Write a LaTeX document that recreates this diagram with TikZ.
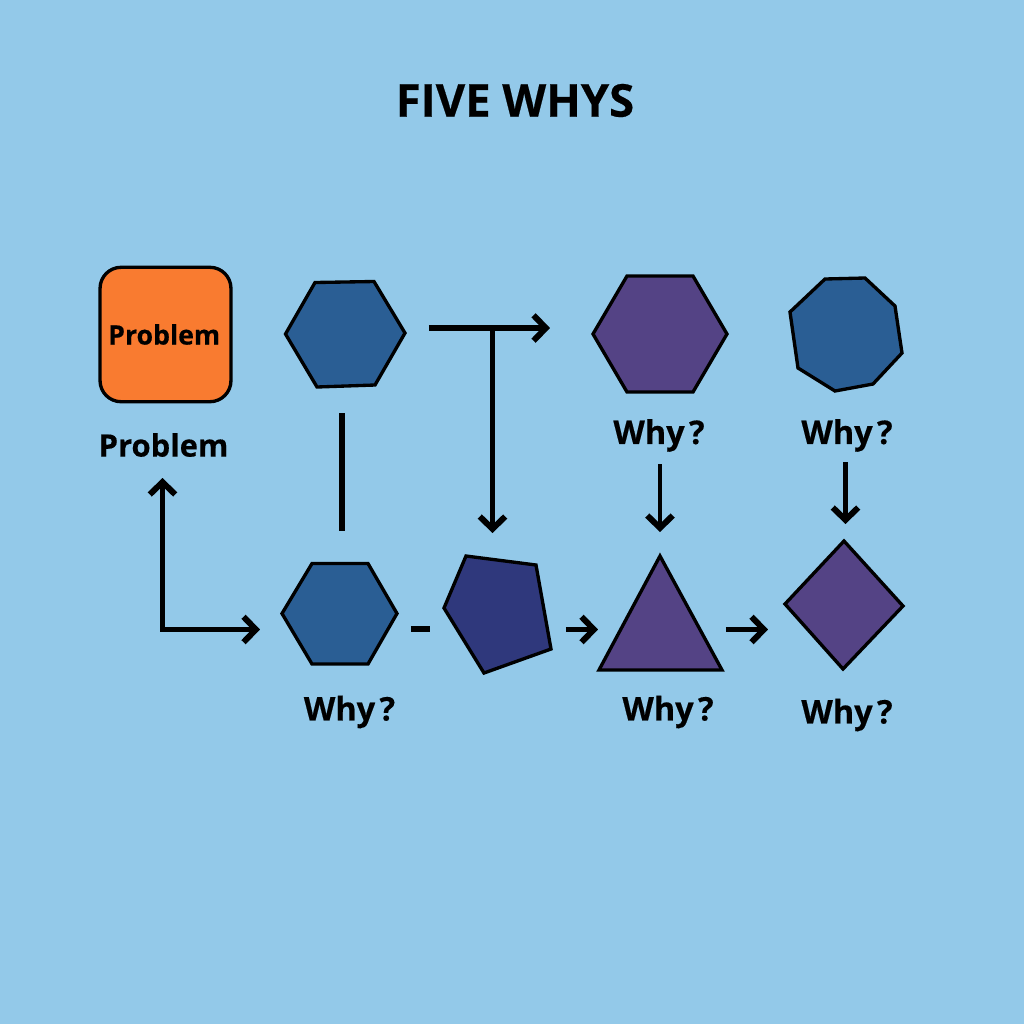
\documentclass[tikz,border=0pt]{standalone}
\usepackage{fontspec}
\setmainfont[BoldFeatures={FakeBold=0.4}]{Open Sans}
\usetikzlibrary{arrows.meta}
\definecolor{skyback}{HTML}{93C9E9}
\definecolor{boxorange}{HTML}{F97B30}
\definecolor{hexblue}{HTML}{2A5E94}
\definecolor{hexpurple}{HTML}{544385}
\definecolor{pentblue}{HTML}{2F387C}
\tikzset{
    shapeline/.style={draw=black, line width=1.9pt, line join=miter},
    whylabel/.style={font=\bfseries\fontsize{18.5}{20}\selectfont, inner sep=0pt},
    link/.style={draw=black, line width=3.2pt},
    thinlink/.style={draw=black, line width=2.5pt},
    barb/.tip={Straight Barb[length=7pt,width=14.5pt,line width=3.4pt]},
    tip/.style={-barb}
}
\newcommand{\whytext}{Why\kern2.5pt?}
\begin{document}
\begin{tikzpicture}[scale=0.2]
    \fill [skyback] (0,0) rectangle (102.4,-102.4);
    \useasboundingbox (0,0) rectangle (102.4,-102.4);
    \node [font=\bfseries\fontsize{25.8}{28}\selectfont, inner sep=0pt] (title) at (51.5,-10.05) {FIVE WHYS};
    % top row
    \node [shapeline, fill=boxorange, rounded corners=12pt, minimum width=74.5pt, minimum height=76.5pt, inner sep=0pt,
        font=\bfseries\fontsize{15.2}{18}\selectfont] (problembox) at (16.55,-33.45) {\kern-1.5pt Problem};
    \node [font=\bfseries\fontsize{17.6}{20}\selectfont, inner sep=0pt] (problemlabel) at (16.35,-44.5) {Problem};
    \draw [shapeline, fill=hexblue] (31.5,-28.25) -- (37.4,-28.15) -- (40.5,-33.3) -- (37.5,-38.5) -- (31.7,-38.7) -- (28.55,-33.4) -- cycle;
    \draw [shapeline, fill=hexpurple] (62.7,-27.6) -- (69.3,-27.6) -- (72.7,-33.4) -- (69.3,-39.2) -- (62.7,-39.2) -- (59.3,-33.4) -- cycle;
    \draw [shapeline, fill=hexblue] (82.5,-27.9) -- (86.5,-27.8) -- (89.5,-30.6) -- (90.2,-35.3) -- (87.3,-38.4) -- (83.5,-39.1) -- (79.8,-36.8) -- (79.0,-31.2) -- cycle;
    \node [whylabel] (whyc) at (65.9,-43.55) {\whytext};
    \node [whylabel] (whyd) at (84.7,-43.55) {\whytext};
    % bottom row
    \draw [shapeline, fill=hexblue] (31.2,-56.35) -- (36.8,-56.35) -- (39.7,-61.35) -- (36.8,-66.4) -- (31.2,-66.4) -- (28.2,-61.35) -- cycle;
    \draw [shapeline, fill=pentblue] (46.6,-55.6) -- (53.6,-56.5) -- (55.1,-64.9) -- (48.4,-67.3) -- (44.4,-60.8) -- cycle;
    \draw [shapeline, fill=hexpurple] (66,-55.6) -- (72.2,-67) -- (59.9,-67) -- cycle;
    \draw [shapeline, fill=hexpurple] (84.4,-54.1) -- (90.3,-60.6) -- (84.3,-66.9) -- (78.5,-60.4) -- cycle;
    \node [whylabel] (whya) at (34.95,-71.2) {\whytext};
    \node [whylabel] (whyb) at (66.8,-71.2) {\whytext};
    \node [whylabel] (whye) at (84.7,-71.5) {\whytext};
    % connector ends
    \coordinate (plainup) at (34.2,-41.3);
    \coordinate (plaindown) at (34.2,-53.1);
    \coordinate (teeleft) at (42.9,-32.8);
    \coordinate (teeright) at (55,-32.8);
    \coordinate (teemid) at (49.25,-32.8);
    \coordinate (teedown) at (49.25,-53.3);
    \coordinate (elbowtop) at (16.25,-47.8);
    \coordinate (elbow) at (16.25,-62.95);
    \coordinate (elbowright) at (26,-62.95);
    \coordinate (dashleft) at (41.1,-62.9);
    \coordinate (dashright) at (43,-62.9);
    \coordinate (shorta) at (56.6,-62.95);
    \coordinate (shortb) at (59.8,-62.95);
    \coordinate (shortc) at (72.6,-62.95);
    \coordinate (shortd) at (76.8,-62.95);
    \coordinate (downa) at (66,-46.4);
    \coordinate (downb) at (66,-53.2);
    \coordinate (downc) at (84.55,-46.2);
    \coordinate (downd) at (84.55,-52.4);
    % connectors
    \draw [link] (plainup) -- (plaindown);
    \draw [link, tip] (teeleft) -- (teeright);
    \draw [thinlink, tip] (teemid) -- (teedown);
    \draw [link, barb-barb] (elbowtop) -- (elbow) -- (elbowright);
    \draw [link] (dashleft) -- (dashright);
    \draw [link, tip] (shorta) -- (shortb);
    \draw [link, tip] (shortc) -- (shortd);
    \draw [thinlink, tip] (downa) -- (downb);
    \draw [thinlink, tip] (downc) -- (downd);
\end{tikzpicture}
\end{document}
